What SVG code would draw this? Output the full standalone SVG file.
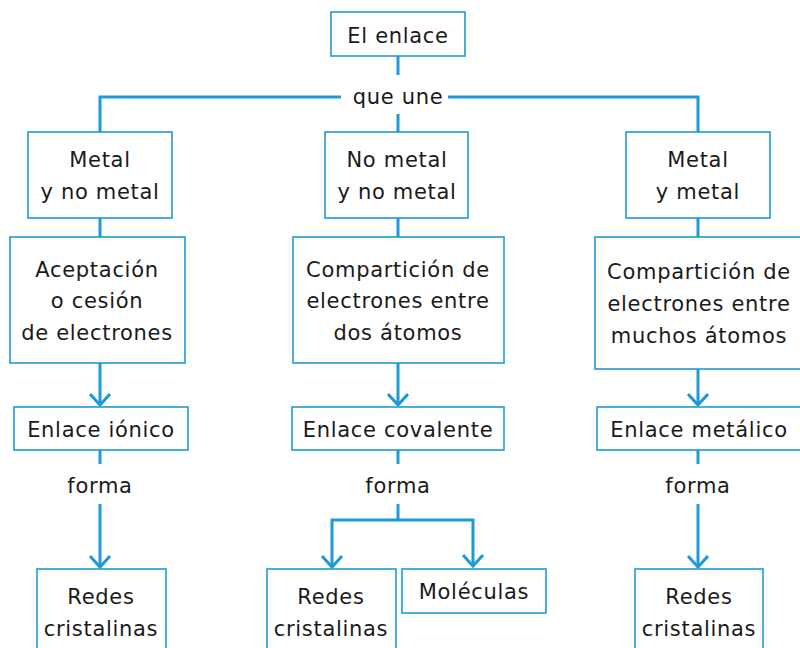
<svg xmlns="http://www.w3.org/2000/svg" width="800" height="648" viewBox="0 0 800 648">
<style>
.box{fill:#fff;stroke:#1e9ad6;stroke-width:1.6}
.ln{fill:none;stroke:#1e9ad6;stroke-width:3}
text{font-family:"DejaVu Sans","Liberation Sans",sans-serif;font-size:21px;letter-spacing:0.7px;fill:#1a1a1a;text-anchor:middle}
</style>
<defs>
<marker id="ah" viewBox="0 0 14 22" refX="12" refY="11" markerWidth="14" markerHeight="22" markerUnits="userSpaceOnUse" orient="auto">
<path d="M1,1 L12,11 L1,21" fill="none" stroke="#1e9ad6" stroke-width="3"/>
</marker>
</defs>
<rect width="800" height="648" fill="#fff"/>
<g id="connectors">
<path class="ln" d="M398,56 V75"/>
<path class="ln" d="M341,97 H100 V132"/>
<path class="ln" d="M448,97 H698 V132"/>
<path class="ln" d="M398,114 V132"/>
<path class="ln" d="M100,218 V237"/>
<path class="ln" d="M398,218 V237"/>
<path class="ln" d="M698,218 V237"/>
<path class="ln" d="M100,363 V405" marker-end="url(#ah)"/>
<path class="ln" d="M398,363 V405" marker-end="url(#ah)"/>
<path class="ln" d="M698,369 V405" marker-end="url(#ah)"/>
<path class="ln" d="M100,450 V464"/>
<path class="ln" d="M398,450 V464"/>
<path class="ln" d="M698,450 V464"/>
<path class="ln" d="M100,504 V567" marker-end="url(#ah)"/>
<path class="ln" d="M698,504 V567" marker-end="url(#ah)"/>
<path class="ln" d="M398,504 V520"/>
<path class="ln" d="M398,520 H332 V567" marker-end="url(#ah)"/>
<path class="ln" d="M398,520 H473 V566" marker-end="url(#ah)"/>
<text x="398" y="104">que une</text>
<text x="100" y="493">forma</text>
<text x="398" y="493">forma</text>
<text x="698" y="493">forma</text>
</g>
<g id="n-enlace"><rect class="box" x="331" y="12" width="134" height="44"/><text x="398" y="43">El enlace</text></g>
<g id="n-mnm"><rect class="box" x="28" y="132" width="144" height="86"/><text x="100" y="167">Metal</text><text x="100" y="199">y no metal</text></g>
<g id="n-nmnm"><rect class="box" x="325" y="132" width="143" height="86"/><text x="397" y="167">No metal</text><text x="397" y="199">y no metal</text></g>
<g id="n-mm"><rect class="box" x="626" y="132" width="144" height="86"/><text x="698" y="167">Metal</text><text x="698" y="199">y metal</text></g>
<g id="n-acep"><rect class="box" x="10" y="237" width="175" height="126"/><text x="97" y="277">Aceptación</text><text x="97" y="308">o cesión</text><text x="97" y="340">de electrones</text></g>
<g id="n-comp2"><rect class="box" x="293" y="237" width="211" height="126"/><text x="398" y="277">Compartición de</text><text x="398" y="308">electrones entre</text><text x="398" y="340">dos átomos</text></g>
<g id="n-compm"><rect class="box" x="595" y="237" width="210" height="132"/><text x="699" y="279">Compartición de</text><text x="699" y="311">electrones entre</text><text x="699" y="343">muchos átomos</text></g>
<g id="n-ionico"><rect class="box" x="14" y="407" width="174" height="43"/><text x="101" y="437">Enlace iónico</text></g>
<g id="n-covalente"><rect class="box" x="292" y="407" width="212" height="43"/><text x="398" y="437">Enlace covalente</text></g>
<g id="n-metalico"><rect class="box" x="597" y="407" width="208" height="43"/><text x="699" y="437">Enlace metálico</text></g>
<g id="n-redes1"><rect class="box" x="37" y="569" width="129" height="90"/><text x="101" y="604">Redes</text><text x="101" y="636">cristalinas</text></g>
<g id="n-redes2"><rect class="box" x="267" y="569" width="129" height="90"/><text x="331" y="604">Redes</text><text x="331" y="636">cristalinas</text></g>
<g id="n-molec"><rect class="box" x="402" y="569" width="144" height="44"/><text x="474" y="599">Moléculas</text></g>
<g id="n-redes3"><rect class="box" x="635" y="569" width="128" height="90"/><text x="699" y="604">Redes</text><text x="699" y="636">cristalinas</text></g>
</svg>
